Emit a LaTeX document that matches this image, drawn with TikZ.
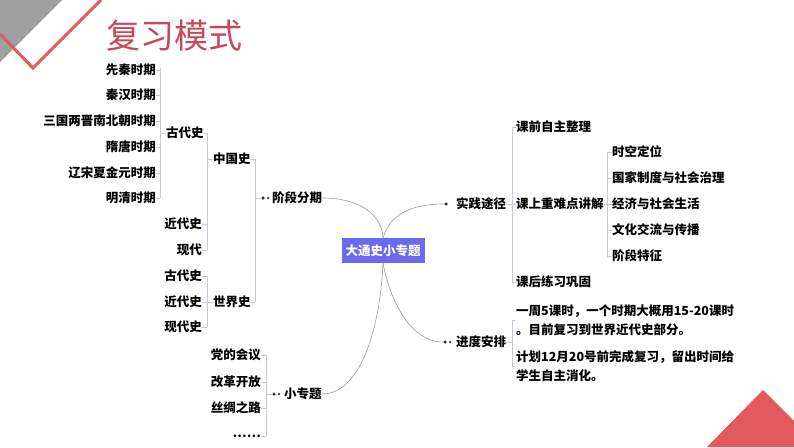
\documentclass[tikz,border=0pt]{standalone}
\usepackage{fontspec}
\setmainfont{Noto Sans CJK SC}
\definecolor{titred}{HTML}{C8485A}
\definecolor{decred}{HTML}{E05A5E}
\definecolor{cbox}{HTML}{6A6AEE}
\definecolor{lgray}{HTML}{C8C8D8}
\definecolor{cgray}{HTML}{9A9AA6}
\begin{document}
\begin{tikzpicture}[x=1pt,y=-1pt,
  t/.style={inner sep=0pt,font=\bfseries\fontsize{12.5}{14}\selectfont},
  tl/.style={t,anchor=west},
  tr/.style={t,anchor=east},
  br/.style={draw=lgray,line width=0.7pt},
  cv/.style={draw=cgray,line width=0.6pt},
  dotc/.style={circle,fill=black!80,inner sep=0pt,minimum size=3.5pt}]
\useasboundingbox (0,0) rectangle (794,447);
\fill[white] (0,0) rectangle (794,447);
% decorations
\fill[gray!75] (0,0) -- (62,0) -- (0,62) -- cycle;
\draw[decred,line width=3pt] (0,34) -- (33,68) -- (101,0);
\fill[decred] (763,390) -- (707,447) -- (794,447) -- (794,421) -- cycle;
\node[inner sep=0pt,anchor=west,text=titred,font=\fontsize{34}{36}\selectfont] (title) at (106,36) {复习模式};
% left: Chinese history
\node[tr] (a1) at (156,70) {先秦时期};
\node[tr] (a2) at (156,95) {秦汉时期};
\node[tr] (a3) at (156,121) {三国两晋南北朝时期};
\node[tr] (a4) at (156,147) {隋唐时期};
\node[tr] (a5) at (156,173) {辽宋夏金元时期};
\node[tr] (a6) at (156,198) {明清时期};
\draw[br] (160,68) -- (160,198);
\foreach \n in {a1,a2,a3,a4,a5,a6} \draw[br] (\n.east) -- (160,0 |- \n.east);
\node[tl] (gd) at (166,133) {古代史};
\node[tr] (jd) at (202,224) {近代史};
\node[tr] (xd) at (202,250) {现代};
\draw[br] (160,133) -- (gd.west);
\draw[br] (207,133) -- (207,250);
\draw[br] (gd.east) -- (207,133);
\draw[br] (jd.east) -- (207,224);
\draw[br] (xd.east) -- (207,250);
\node[tl] (zg) at (213,159) {中国史};
\draw[br] (207,159) -- (zg.west);
\node[tr] (wg) at (202,276) {古代史};
\node[tr] (wj) at (202,302) {近代史};
\node[tr] (wx) at (202,327) {现代史};
\draw[br] (207,276) -- (207,327);
\foreach \n in {wg,wj,wx} \draw[br] (\n.east) -- (207,0 |- \n.east);
\node[tl] (sj) at (213,302) {世界史};
\draw[br] (207,302) -- (sj.west);
\draw[br] (255,159) -- (255,302);
\draw[br] (zg.east) -- (255,159);
\draw[br] (sj.east) -- (255,302);
\node[dotc] (d1a) at (263,198) {};
\node[dotc,minimum size=2.5pt] (d1b) at (268,198) {};
\node[tl] (jdfq) at (272,198) {阶段分期};
\draw[br] (255,198) -- (d1a);
% small topics
\node[tr] (s1) at (261,355) {党的会议};
\node[tr] (s2) at (261,382) {改革开放};
\node[tr] (s3) at (261,408) {丝绸之路};
\node[tr] (s4) at (261,436) {……};
\draw[br] (266,355) -- (266,436);
\foreach \n in {s1,s2,s3,s4} \draw[br] (\n.east) -- (266,0 |- \n.east);
\node[dotc] (d2a) at (274,394) {};
\node[dotc,minimum size=2.5pt] (d2b) at (279,394) {};
\node[tl] (xzt) at (284,394) {小专题};
\draw[br] (266,394) -- (d2a);
% right: practice
\node[dotc] (d3) at (446,204) {};
\node[tl] (sjtj) at (456,204) {实践途径};
\node[tl] (r1) at (516,127) {课前自主整理};
\node[tl] (r2) at (516,204) {课上重难点讲解};
\node[tl] (r3) at (516,282) {课后练习巩固};
\draw[br] (512,127) -- (512,282);
\draw[br] (sjtj.east) -- (r2.west);
\foreach \n in {r1,r3} \draw[br] (512,0 |- \n.west) -- (\n.west);
\node[tl] (q1) at (612,152) {时空定位};
\node[tl] (q2) at (612,178) {国家制度与社会治理};
\node[tl] (q3) at (612,204) {经济与社会生活};
\node[tl] (q4) at (612,230) {文化交流与传播};
\node[tl] (q5) at (612,256) {阶段特征};
\draw[br] (607,152) -- (607,256);
\draw[br] (r2.east) -- (q3.west);
\foreach \n in {q1,q2,q4,q5} \draw[br] (607,0 |- \n.west) -- (\n.west);
% schedule
\node[dotc] (d4a) at (445,342) {};
\node[dotc,minimum size=2.5pt] (d4b) at (450,342) {};
\node[tl] (jdap) at (456,342) {进度安排};
\node[tl] (p1) at (516,311) {一周5课时，一个时期大概用15-20课时};
\node[tl] (p2) at (516,330) {。目前复习到世界近代史部分。};
\node[tl] (p3) at (516,357) {计划12月20号前完成复习，留出时间给};
\node[tl] (p4) at (516,376) {学生自主消化。};
\draw[br] (512,320) -- (512,366);
\draw[br] (jdap.east) -- (512,342);
\draw[br] (512,320) -- (515,320);
\draw[br] (512,366) -- (515,366);
% center
\node[fill=cbox,text=white,inner xsep=4pt,minimum height=25pt,font=\bfseries\fontsize{12.5}{14}\selectfont] (c) at (383,250.5) {大通史小专题};
\draw[cv] (jdfq.east) .. controls (360,198) and (382,215) .. (c.north);
\draw[cv] (c.north) .. controls (390,215) and (410,204) .. (d3);
\draw[cv] (c.south) .. controls (390,300) and (410,342) .. (d4a);
\draw[cv] (c.south) .. controls (380,330) and (360,394) .. (xzt.east);
\end{tikzpicture}
\end{document}
